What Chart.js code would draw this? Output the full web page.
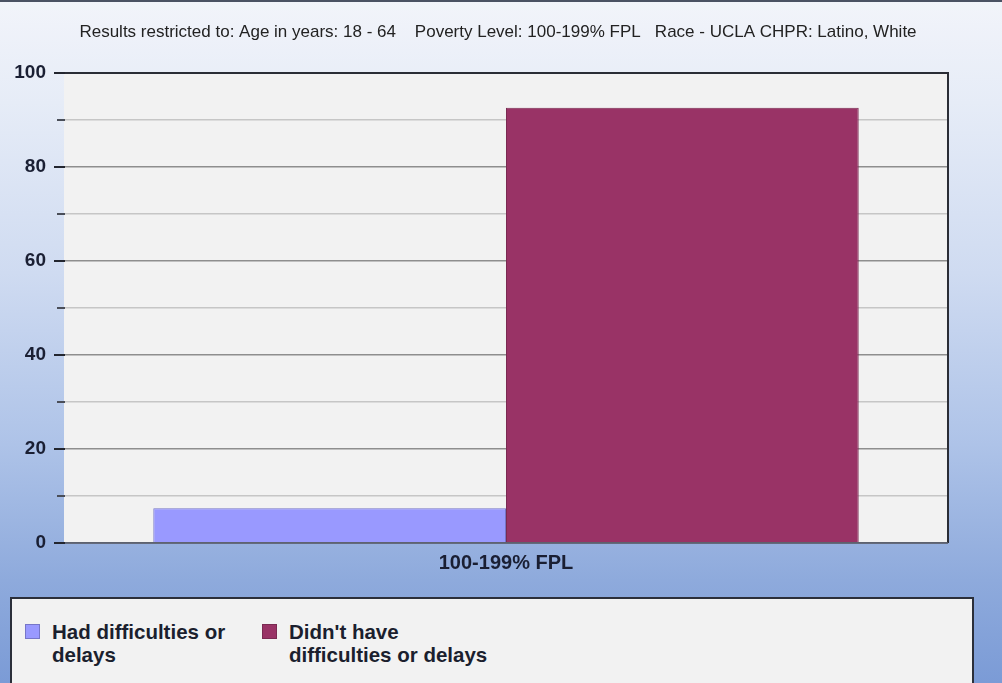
<!DOCTYPE html>
<html>
<head>
<meta charset="utf-8">
<script src="https://cdn.jsdelivr.net/npm/chart.js@4.4.1/dist/chart.umd.min.js"></script>
<style>
  html, body { margin:0; padding:0; }
  body {
    width:1002px; height:683px; overflow:hidden; position:relative;
    background: linear-gradient(to bottom, #f2f4fa 0%, #e6ecf7 15%, #cfdbf1 40%, #aec3e8 65%, #8eaadc 85%, #7b9bd6 100%);
    font-family: "Liberation Sans", Arial, sans-serif;
  }
  #topline { position:absolute; left:0; top:0; width:1002px; height:2px; background:#4b5263; }
  #wrap { position:absolute; left:0; top:0; width:1002px; height:683px; }
  #legend {
    position:absolute; left:10px; top:597px; width:964px; height:90px;
    background:#f2f2f2; border:2px solid #2b2f3a; box-sizing:border-box;
  }
  .item { position:absolute; top:21px; display:flex; align-items:flex-start; }
  .sw { width:15px; height:15px; margin-top:4px; box-sizing:border-box; }
  .txt { margin-left:12px; font-weight:bold; font-size:20.5px; line-height:23px; color:#1b1f2e; white-space:nowrap; }
</style>
</head>
<body>
<div id="topline"></div>
<div id="wrap"><canvas id="c" width="1002" height="683"></canvas></div>
<div id="legend"></div>
<script>
const categories = ['100-199% FPL'];
const seriesLabelLines = [['Had difficulties or', 'delays'], ["Didn't have", 'difficulties or delays']];
const hadDifficulties = [7.4];
const noDifficulties = [92.6];
const yTickLabels = [0, 20, 40, 60, 80, 100];
const titleText = 'Results restricted to: Age in years: 18 - 64    Poverty Level: 100-199% FPL   Race - UCLA CHPR: Latino, White';

const colors = ['#9999ff', '#993366'];
const borders = ['#7676c8', '#7a2a52'];

const plotPlugin = {
  id: 'plotDecor',
  beforeDraw(chart) {
    const a = chart.chartArea, ctx = chart.ctx;
    ctx.save();
    ctx.fillStyle = '#f2f2f2';
    ctx.fillRect(a.left, a.top, a.right - a.left, a.bottom - a.top);
    ctx.restore();
  },
  afterDraw(chart) {
    const a = chart.chartArea, ctx = chart.ctx, y = chart.scales.y;
    ctx.save();
    ctx.strokeStyle = '#2a2d36';
    ctx.lineWidth = 2;
    ctx.beginPath();
    ctx.moveTo(a.left, a.top); ctx.lineTo(a.right, a.top); ctx.lineTo(a.right, a.bottom);
    ctx.stroke();
    ctx.strokeStyle = '#5a5f6c';
    ctx.lineWidth = 1.5;
    ctx.beginPath();
    ctx.moveTo(a.left, a.bottom); ctx.lineTo(a.right, a.bottom);
    ctx.stroke();
    y.ticks.forEach(t => {
      const py = Math.round(y.getPixelForValue(t.value));
      const major = yTickLabels.includes(t.value);
      ctx.strokeStyle = major ? '#23262f' : '#4a4e58';
      ctx.lineWidth = 2;
      ctx.beginPath();
      ctx.moveTo(a.left - (major ? 10 : 7), py);
      ctx.lineTo(a.left + 1, py);
      ctx.stroke();
    });
    ctx.fillStyle = '#222222';
    ctx.font = '17px "Liberation Sans", Arial, sans-serif';
    ctx.textAlign = 'center';
    ctx.textBaseline = 'middle';
    ctx.fillText(titleText, 498, 32);
    ctx.restore();
  }
};

const chart = new Chart(document.getElementById('c'), {
  type: 'bar',
  data: {
    labels: categories,
    datasets: [
      { label: seriesLabelLines[0].join(' '), data: hadDifficulties, backgroundColor: colors[0], borderColor: borders[0], borderWidth: 1, categoryPercentage: 0.798, barPercentage: 1.0 },
      { label: seriesLabelLines[1].join(' '), data: noDifficulties, backgroundColor: colors[1], borderColor: borders[1], borderWidth: 1, categoryPercentage: 0.798, barPercentage: 1.0 }
    ]
  },
  options: {
    responsive: false,
    animation: false,
    layout: { padding: { top: 73, right: 54, left: 0, bottom: 100 } },
    plugins: { legend: { display: false }, title: { display: false }, tooltip: { enabled: false } },
    scales: {
      x: {
        grid: { display: false },
        border: { display: false },
        ticks: { color: '#1a1f33', font: { family: '"Liberation Sans", Arial, sans-serif', size: 20, weight: 'bold' }, padding: 0 },
        afterFit(s) { s.height = 40; }
      },
      y: {
        min: 0, max: 100,
        ticks: {
          stepSize: 10,
          padding: 18,
          color: '#1a1f33',
          font: { family: '"Liberation Sans", Arial, sans-serif', size: 19, weight: 'bold' },
          callback: v => yTickLabels.includes(v) ? String(v) : ''
        },
        grid: {
          drawTicks: false,
          color: ctx => {
            const v = ctx.tick ? ctx.tick.value : 0;
            if (v === 100) return 'rgba(0,0,0,0)';
            if (v === 0) return '#6a6e78';
            return yTickLabels.includes(v) ? '#8e8e8e' : '#c6c6c6';
          },
          lineWidth: 1.5
        },
        border: { display: false },
        afterFit(s) { s.width = 64; }
      }
    }
  },
  plugins: [plotPlugin]
});

const legend = document.getElementById('legend');
const lefts = [13, 250];
chart.data.datasets.forEach((ds, i) => {
  const it = document.createElement('div');
  it.className = 'item';
  it.style.left = lefts[i] + 'px';
  const sw = document.createElement('div');
  sw.className = 'sw';
  sw.style.background = ds.backgroundColor;
  sw.style.border = '1px solid ' + ds.borderColor;
  const tx = document.createElement('div');
  tx.className = 'txt';
  seriesLabelLines[i].forEach(line => {
    const d = document.createElement('div');
    d.textContent = line;
    tx.appendChild(d);
  });
  it.appendChild(sw); it.appendChild(tx);
  legend.appendChild(it);
});
</script>
</body>
</html>
